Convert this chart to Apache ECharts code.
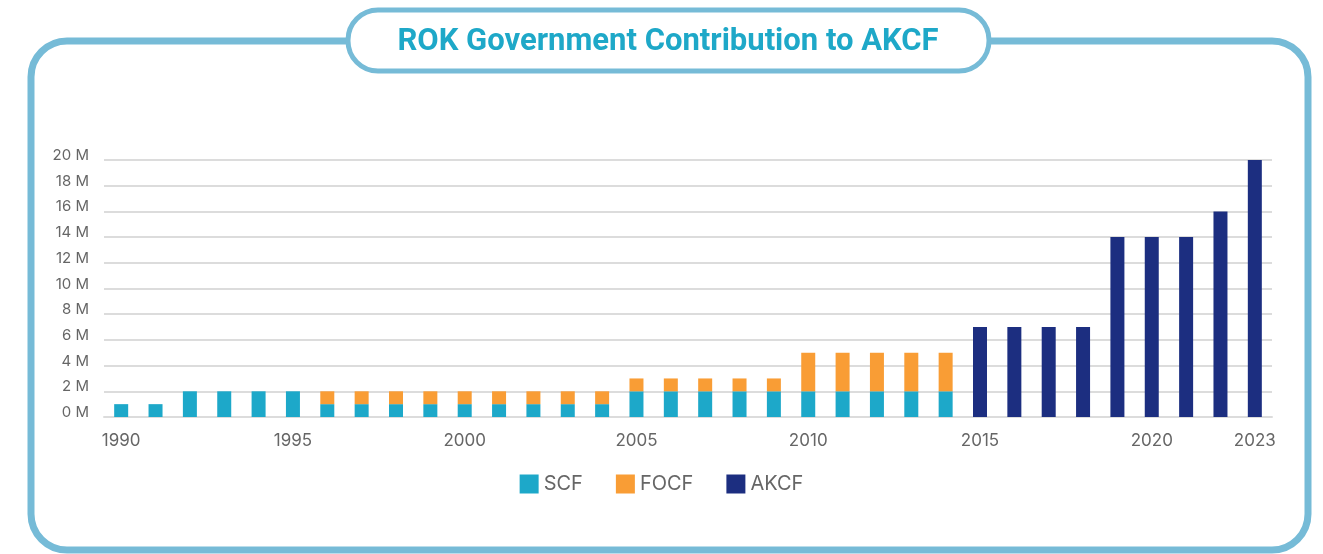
<!DOCTYPE html>
<html>
<head>
<meta charset="utf-8">
<script src="https://cdn.jsdelivr.net/npm/echarts@6/dist/echarts.min.js"></script>
<style>
    html, body { margin: 0; padding: 0; background: #fff; }
    #chart { width: 1323px; height: 554px; }
</style>
</head>
<body>
<div id="chart"></div>
<script>
// contributions in millions
const years = ['1990', '1991', '1992', '1993', '1994', '1995', '1996', '1997', '1998', '1999',
    '2000', '2001', '2002', '2003', '2004', '2005', '2006', '2007', '2008', '2009',
    '2010', '2011', '2012', '2013', '2014', '2015', '2016', '2017', '2018', '2019',
    '2020', '2021', '2022', '2023']
const scf = [1, 1, 2, 2, 2, 2, 1, 1, 1, 1,
    1, 1, 1, 1, 1, 2, 2, 2, 2, 2,
    2, 2, 2, 2, 2, null, null, null, null, null,
    null, null, null, null]
const focf = [null, null, null, null, null, null, 1, 1, 1, 1,
    1, 1, 1, 1, 1, 1, 1, 1, 1, 1,
    3, 3, 3, 3, 3, null, null, null, null, null,
    null, null, null, null]
const akcf = [null, null, null, null, null, null, null, null, null, null,
    null, null, null, null, null, null, null, null, null, null,
    null, null, null, null, null, 7, 7, 7, 7, 14,
    14, 14, 16, 20]
const shownYears = ['1990', '1995', '2000', '2005', '2010', '2015', '2020', '2023']

const colors = ['#1da8c9', '#f99d35', '#1c2e80']
const frame = '#76bbd7'

const chart = echarts.init(document.getElementById('chart'))

function barSeries(name, data) {
    return {
        name: name,
        type: 'bar',
        stack: 'total',
        barWidth: 14,
        data: data
    }
}

chart.setOption({
    animation: false,
    color: colors,
    textStyle: { fontFamily: 'Inter, Roboto, sans-serif' },
    graphic: [
        {
            type: 'rect',
            z: 1,
            shape: { x: 31, y: 41, width: 1277, height: 509, r: 36 },
            style: { fill: 'none', stroke: frame, lineWidth: 7 }
        },
        {
            type: 'rect',
            z: 2,
            shape: { x: 348, y: 10, width: 641, height: 61, r: 30 },
            style: { fill: '#fff', stroke: frame, lineWidth: 5 }
        },
        {
            type: 'text',
            z: 3,
            x: 668,
            y: 42,
            style: {
                text: 'ROK Government Contribution to AKCF',
                fill: '#1ea8c8',
                font: 'bold 31px Roboto, sans-serif',
                align: 'center',
                verticalAlign: 'middle'
            }
        }
    ],
    legend: {
        top: 469,
        left: 'center',
        icon: 'rect',
        itemWidth: 19,
        itemHeight: 19,
        itemGap: 33,
        textStyle: { fontSize: 20, color: '#666' },
        data: ['SCF', 'FOCF', 'AKCF']
    },
    grid: { left: 104, right: 51, top: 160, bottom: 137 },
    xAxis: {
        type: 'category',
        data: years,
        axisLine: { lineStyle: { color: '#dcdcdc', width: 2 } },
        axisTick: { show: false },
        axisLabel: {
            color: '#666',
            fontSize: 17,
            margin: 15,
            interval: (i, v) => shownYears.includes(v)
        }
    },
    yAxis: {
        type: 'value',
        min: 0,
        max: 20,
        interval: 2,
        axisLine: { show: false },
        axisTick: { show: false },
        splitLine: { lineStyle: { color: '#dcdcdc', width: 2 } },
        axisLabel: {
            color: '#666',
            fontSize: 15,
            margin: 15,
            formatter: v => '{m|' + v + ' M}',
            rich: {
                m: { fontSize: 15, color: '#666', padding: [0, 0, 9, 0] }
            }
        }
    },
    series: [
        barSeries('SCF', scf),
        barSeries('FOCF', focf),
        barSeries('AKCF', akcf)
    ]
})
</script>
</body>
</html>
